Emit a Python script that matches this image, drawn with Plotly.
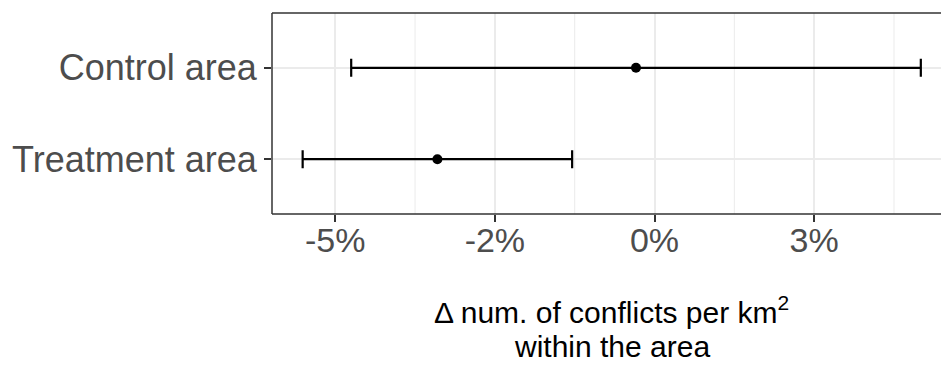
import plotly.graph_objects as go

# Estimated change (in %) with confidence bounds for each area
areas = ["Treatment area", "Control area"]
estimate = [-3.40, -0.29]
lower = [-5.51, -4.75]
upper = [-1.29, 4.17]

x_tickvals = [-5, -2.5, 0, 2.5]
x_ticktext = ["-5%", "-2%", "0%", "3%"]
x_minorvals = [-3.75, -1.25, 1.25, 3.75]

W, H = 941, 367
M_L, M_R, M_T, M_B = 272, 0, 13, 153
PX_PER_PCT = 63.86
x_lo = -5.99
x_hi = x_lo + (W - M_L - M_R) / PX_PER_PCT

err_plus = [u - e for u, e in zip(upper, estimate)]
err_minus = [e - l for e, l in zip(estimate, lower)]

fig = go.Figure()
fig.add_trace(go.Scatter(
    x=estimate,
    y=areas,
    mode="markers",
    marker=dict(color="black", size=10),
    error_x=dict(type="data", symmetric=False, array=err_plus, arrayminus=err_minus,
                 color="black", thickness=2.2, width=9),
    showlegend=False,
    hoverinfo="skip",
))

FONT = "Liberation Sans, Arial, sans-serif"

fig.update_layout(
    width=W, height=H,
    margin=dict(l=M_L, r=M_R, t=M_T, b=M_B, pad=0),
    paper_bgcolor="white",
    plot_bgcolor="white",
    font=dict(family=FONT, color="#4D4D4D"),
    xaxis=dict(
        range=[x_lo, x_hi],
        tickmode="array", tickvals=x_tickvals, ticktext=x_ticktext,
        tickfont=dict(size=34, color="#4D4D4D", family=FONT),
        ticklabelstandoff=-11,
        showgrid=True, gridcolor="#EBEBEB", gridwidth=1.5,
        showline=False,
        ticks="outside", ticklen=7, tickwidth=1.5, tickcolor="#333333",
        zeroline=False,
    ),
    yaxis=dict(
        type="category", categoryorder="array", categoryarray=areas,
        range=[-0.6, 1.6],
        tickfont=dict(size=36, color="#4D4D4D", family=FONT),
        showgrid=True, gridcolor="#EBEBEB", gridwidth=1.5,
        showline=False,
        ticks="outside", ticklen=7, tickwidth=1.5, tickcolor="#333333",
        zeroline=False,
    ),
)

# Minor vertical gridlines between the labelled breaks
for v in x_minorvals:
    fig.add_shape(type="line", xref="x", yref="paper", x0=v, x1=v, y0=0, y1=1,
                  line=dict(color="#EBEBEB", width=1), layer="below")

# Panel border: left, bottom and top edges (the panel runs on past the right edge)
for x0, y0, x1, y1 in [(0, 0, 0, 1), (0, 0, 1, 0), (0, 1, 1, 1)]:
    fig.add_shape(type="line", xref="paper", yref="paper",
                  x0=x0, y0=y0, x1=x1, y1=y1,
                  line=dict(color="#333333", width=1.5), layer="above")

# Two-line axis title, centred under the panel
title_cx = (611.5 - M_L) / (W - M_L - M_R)
plot_h = H - M_T - M_B


def paper_y(px):
    return -(px - (H - M_B)) / plot_h


fig.add_annotation(
    text="\u0394 num. of conflicts per km<sup>2</sup>",
    xref="paper", yref="paper", x=title_cx, y=paper_y(310),
    xanchor="center", yanchor="middle", showarrow=False,
    font=dict(size=30, color="black", family=FONT),
)
fig.add_annotation(
    text="within the area",
    xref="paper", yref="paper", x=title_cx, y=paper_y(346),
    xanchor="center", yanchor="middle", showarrow=False,
    font=dict(size=30, color="black", family=FONT),
)

fig.write_html("out.html")
